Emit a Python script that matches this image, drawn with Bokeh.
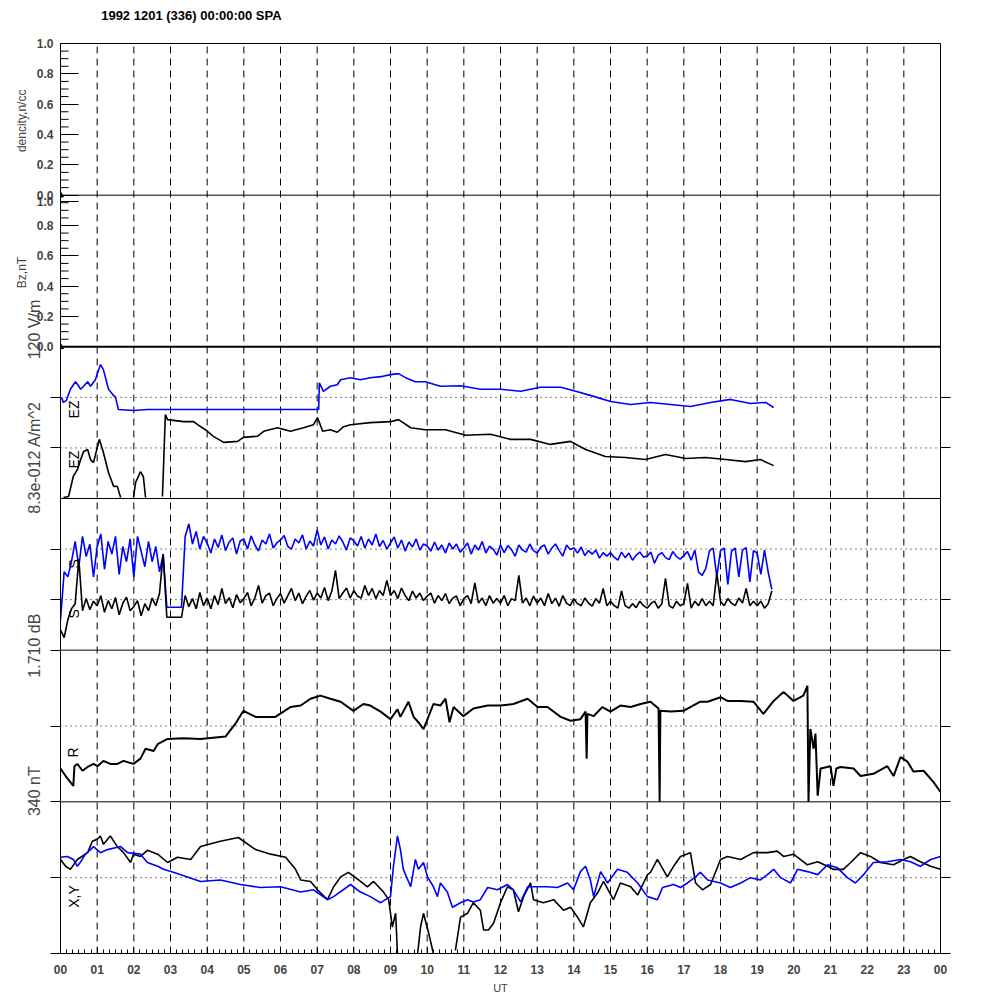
import math
from bokeh.plotting import figure
from bokeh.models import Range1d, LinearAxis, FixedTicker, Label, CustomJSTickFormatter
from bokeh.embed import file_html
from bokeh.resources import INLINE

nan = float("nan")

# ---------------- data ----------------
TITLE = "1992 1201 (336) 00:00:00 SPA"
HOUR_TICKS = list(range(0, 25))
HOUR_LABELS = ["00", "01", "02", "03", "04", "05", "06", "07", "08", "09", "10", "11",
               "12", "13", "14", "15", "16", "17", "18", "19", "20", "21", "22", "23", "00"]
UNIT_TICKS = [0.0, 0.2, 0.4, 0.6, 0.8, 1.0]
SIDE_LABELS = ["340 nT", "1.710 dB", "8.3e-012 A/m^2", "120 V/m"]
OUTER_LABELS = ["Bz,nT", "dencity,n/cc"]

# panels 1-2 : a single zero sample each
DENS_T = [0.0]
DENS_V = [0.0]
BZ_T = [0.0]
BZ_V = [0.0]

# panel 3 : EZ (blue, upper) and EZ (black, lower), panel units 0..3
EZB_T = [0.03, 0.08, 0.16, 0.27, 0.41, 0.49, 0.55, 0.63, 0.74, 0.82, 0.95, 1.09, 1.17, 1.31, 1.42,
         1.50, 1.58, 1.99, 2.37, 7.04, 7.06, 7.17, 7.36, 7.55, 7.64, 7.91, 8.18, 8.45, 8.73, 9.0,
         9.22, 9.41, 9.68, 9.95, 10.36, 10.91, 11.45, 12.0, 12.55, 13.09, 13.64, 14.05, 14.45, 15.0,
         15.55, 16.09, 16.64, 17.18, 17.73, 18.27, 18.82, 19.23, 19.45]
EZB_V = [2.0, 1.9, 1.94, 2.16, 2.31, 2.23, 2.16, 2.22, 2.31, 2.22, 2.35, 2.65, 2.55, 2.16, 2.06,
         2.0, 1.76, 1.74, 1.76, 1.76, 2.29, 2.12, 2.22, 2.25, 2.35, 2.39, 2.35, 2.39, 2.41, 2.45,
         2.47, 2.39, 2.31, 2.31, 2.22, 2.23, 2.16, 2.16, 2.12, 2.2, 2.2, 2.12, 2.04, 1.92,
         1.86, 1.9, 1.86, 1.82, 1.9, 1.96, 1.88, 1.9, 1.8]
EZK_T = [0.08, 0.22, 0.35, 0.46, 0.55, 0.63, 0.74, 0.82, 0.90, 1.01, 1.06, 1.17, 1.31, 1.45, 1.55, 1.64,
         nan, 1.99, 2.05, 2.18, 2.26, 2.32, nan,
         2.78, 2.81, 2.86, 2.92, 3.35, 3.63, 3.74, 3.95, 4.17, 4.45, 4.83, 4.99, 5.37, 5.54, 5.92, 6.27,
         6.63, 6.90, 7.01, 7.15, 7.36, 7.55, 7.72, 7.91, 8.45, 9.0, 9.22, 9.55, 9.95, 10.5, 11.05, 11.73,
         12.27, 12.82, 13.36, 13.91, 14.32, 14.86, 15.41, 15.95, 16.5, 17.05, 17.59, 18.14, 18.68,
         19.09, 19.45]
EZK_V = [0.02, 0.04, 0.44, 0.57, 0.77, 0.93, 0.97, 0.77, 0.71, 1.03, 1.17, 0.91, 0.51, 0.24, 0.24, 0.02,
         nan, 0.02, 0.32, 0.53, 0.43, 0.02, nan,
         0.04, 0.63, 1.66, 1.56, 1.52, 1.52, 1.46, 1.36, 1.23, 1.11, 1.13, 1.21, 1.23, 1.33, 1.40, 1.33,
         1.40, 1.46, 1.60, 1.33, 1.36, 1.31, 1.42, 1.46, 1.50, 1.52, 1.56, 1.40, 1.36, 1.36, 1.25, 1.27,
         1.17, 1.17, 1.07, 1.13, 0.97, 0.83, 0.81, 0.77, 0.87, 0.79, 0.81, 0.77, 0.73, 0.77, 0.65]

# panel 4 : two noisy traces sampled every 0.1 h, panel units 0..3
S_BLUE = [0.6, 1.55, 1.45, 1.75, 2.15, 1.65, 2.25, 1.85, 2.1, 1.45,
          2.05, 2.3, 1.6, 2.15, 1.9, 2.25, 1.5, 2.05, 1.75, 2.2,
          1.45, 2.25, 1.95, 1.65, 2.15, 1.75, 2.05, 1.55, 1.9, 0.85,
          0.85, 0.85, 0.85, 0.85, 2.25, 2.5, 2.1, 2.35, 2.0, 2.25,
          2.12, 1.92, 2.2, 2.03, 2.28, 1.97, 2.14, 2.22, 1.9, 2.16,
          2.2, 2.0, 2.26, 2.08, 1.96, 2.18, 2.1, 2.3, 2.02, 2.12,
          2.18, 2.27, 2.05, 2.0, 2.2, 2.12, 2.28, 2.0, 2.16, 2.06,
          2.38, 2.08, 2.24, 2.0, 2.18, 2.1, 2.26, 2.14, 1.98, 2.22,
          2.16, 2.06, 2.25, 2.02, 2.2, 2.08, 2.3, 2.05, 2.17, 2.0,
          2.12, 2.24, 2.02, 2.18, 1.96, 2.14, 2.04, 2.2, 1.98, 2.1,
          2.06, 1.96, 2.14, 1.98, 2.08, 1.92, 2.12, 2.0, 2.1, 1.94,
          2.02, 2.12, 1.9, 2.08, 1.98, 2.15, 1.92, 2.06, 2.0, 1.88,
          2.08, 1.93, 2.07, 1.99, 1.86, 2.08, 1.98, 1.94, 2.1, 1.97,
          1.92, 2.04, 2.08, 1.9, 2.02, 2.1, 1.97, 1.86, 2.08, 1.99,
          2.02, 1.92, 2.04, 1.87, 1.97, 1.9, 1.98, 1.82, 1.93, 1.86,
          1.93, 1.84, 1.78, 1.94, 1.83, 1.92, 1.78, 1.88, 1.94, 1.84,
          1.86, 1.94, 1.72, 1.88, 1.93, 1.83, 1.79, 1.95, 1.85, 1.8,
          1.87, 1.95, 1.78, 1.98, 1.55, 1.48, 1.62, 1.97, 2.02, 1.45,
          1.97, 2.02, 1.3, 1.96, 2.02, 1.45, 1.98, 2.03, 1.35, 1.97,
          1.92, 1.5, 1.98, 1.55, 1.2]
S_BLACK = [0.4, 0.25, 0.6, 0.82, 0.92, 1.8, 0.78, 1.02, 0.8, 0.97,
           0.88, 1.08, 0.75, 0.98, 0.82, 1.04, 0.7, 0.93, 1.05, 0.78,
           0.86, 0.98, 0.68, 0.92, 0.78, 1.03, 0.88, 1.12, 1.9, 0.65,
           0.65, 0.65, 0.65, 0.65, 1.08, 0.86, 1.02, 0.82, 1.14, 0.88,
           1.03, 0.82, 1.08, 0.9, 1.22, 0.92, 1.04, 0.84, 1.1, 0.94,
           1.02, 1.14, 0.88, 1.03, 1.28, 0.93, 1.08, 1.13, 0.88, 1.02,
           1.12, 0.93, 1.08, 1.22, 0.98, 1.13, 0.92, 1.07, 1.18, 0.99,
           1.13, 1.03, 1.24, 0.98, 1.17, 1.58, 1.02, 1.13, 1.23, 1.03,
           1.18, 1.07, 1.03, 1.28, 1.08, 1.22, 1.02, 1.18, 1.08, 1.38,
           1.08, 1.18, 1.02, 1.23, 1.08, 0.98, 1.17, 1.03, 1.13, 0.98,
           1.07, 1.13, 0.93, 1.08, 0.98, 1.12, 0.92, 1.03, 1.07, 0.88,
           1.02, 1.08, 0.92, 1.33, 0.93, 1.03, 0.88, 1.08, 0.93, 1.02,
           0.93, 1.08, 0.88, 1.02, 0.98, 1.48, 0.93, 1.03, 0.88, 1.07,
           0.93, 1.03, 0.88, 1.12, 0.92, 1.03, 0.87, 1.08, 0.93, 0.88,
           1.02, 0.92, 0.88, 1.03, 0.93, 0.87, 1.02, 0.93, 1.22, 0.88,
           0.97, 0.88, 0.83, 1.17, 0.88, 0.83, 0.92, 0.84, 0.97, 0.88,
           0.83, 0.92, 0.97, 0.83, 0.92, 1.42, 0.88, 0.83, 0.97, 0.88,
           0.92, 1.32, 0.83, 0.97, 0.88, 1.02, 0.88, 0.97, 0.88, 1.52,
           0.97, 0.88, 1.02, 0.93, 0.88, 1.03, 0.93, 1.22, 0.88, 0.97,
           0.88, 0.97, 0.83, 0.92, 1.17]
S_STEP_H = 0.1

# panel 5 : R, panel units 0..2
R_T = [0, 0.14, 0.27, 0.35, 0.38, 0.46, 0.60, 0.74, 0.90, 1.01,
       1.17, 1.36, 1.55, 1.72, 1.99, 2.18, 2.32, 2.54, 2.65, 2.92,
       3.35, 3.82, 4.50, 4.77, 4.99, 5.32, 5.86, 6.27, 6.55, 6.82,
       7.09, 7.36, 7.64, 7.99, 8.26, 8.45, 8.73, 9.0, 9.19, 9.27,
       9.49, 9.63, 9.76, 9.90, 10.01, 10.17, 10.36, 10.50, 10.61, 10.72,
       10.99, 11.26, 11.65, 12.0, 12.35, 12.74, 13.01, 13.28, 13.64, 13.91,
       14.18, 14.32, 14.35, 14.37, 14.54, 14.78, 15.0, 15.27, 15.55, 15.82,
       16.09, 16.31, 16.34, 16.36, 16.64, 16.99, 17.45, 17.65, 18.0, 18.19,
       18.55, 18.90, 19.17, 19.45, 19.72, 19.99, 20.26, 20.37, 20.40, 20.45,
       20.54, 20.59, 20.65, 20.73, 21.0, 21.08, 21.16, 21.27, 21.63, 21.82,
       22.17, 22.55, 22.72, 22.91, 23.10, 23.26, 23.54, 23.81, 24.0]
R_V = [0.44, 0.34, 0.26, 0.21, 0.47, 0.50, 0.41, 0.46, 0.50, 0.47,
       0.54, 0.50, 0.50, 0.54, 0.50, 0.57, 0.70, 0.67, 0.76, 0.83,
       0.84, 0.83, 0.86, 1.03, 1.20, 1.12, 1.12, 1.25, 1.27, 1.36,
       1.40, 1.36, 1.32, 1.20, 1.29, 1.27, 1.19, 1.09, 1.22, 1.12,
       1.32, 1.12, 1.05, 0.96, 1.09, 1.29, 1.27, 1.36, 1.05, 1.25,
       1.13, 1.23, 1.27, 1.27, 1.29, 1.36, 1.25, 1.25, 1.12, 1.07,
       1.09, 1.19, 0.57, 1.16, 1.13, 1.25, 1.19, 1.27, 1.25, 1.29,
       1.32, 1.23, 0.0, 1.2, 1.19, 1.20, 1.32, 1.32, 1.38, 1.33,
       1.33, 1.32, 1.16, 1.33, 1.45, 1.33, 1.40, 1.53, 0.0, 0.96,
       0.70, 0.90, 0.08, 0.44, 0.47, 0.21, 0.44, 0.46, 0.44, 0.34,
       0.37, 0.47, 0.34, 0.59, 0.53, 0.40, 0.41, 0.26, 0.13]

# panel 6 : X (black) and Y (blue), panel units 0..2
X_T = [0, 0.14, 0.27, 0.46, 0.74, 0.87, 1.01, 1.09, 1.17, 1.36,
       1.55, 1.72, 1.91, 1.99, 2.18, 2.37, 2.65, 2.92, 3.19, 3.55,
       3.82, 4.36, 4.85, 5.32, 5.73, 6.14, 6.41, 6.55, 6.82, 7.01,
       7.28, 7.45, 7.64, 7.85, 8.13, 8.37, 8.54, 8.81, 8.95, 9.05,
       9.14, 9.19, nan, 9.74, 9.82, 9.90, 10.04, 10.17, nan, 10.77,
       10.91, 11.10, 11.26, 11.45, 11.54, 11.67, 11.81, 12.0, 12.19, 12.35,
       12.49, 12.63, 12.82, 12.90, 13.17, 13.45, 13.72, 13.91, 14.10, 14.26,
       14.45, 14.65, 14.81, 15.08, 15.27, 15.55, 15.74, 16.01, 16.09, 16.28,
       16.55, 16.72, 16.91, 17.18, 17.32, 17.51, 17.73, 18.0, 18.19, 18.55,
       18.90, 19.28, 19.55, 19.72, 19.99, 20.37, 20.65, 20.92, 21.08, 21.35,
       21.55, 21.82, 22.09, 22.36, 22.72, 22.99, 23.18, 23.45, 23.73, 24.0]
X_V = [1.24, 1.15, 1.11, 1.24, 1.33, 1.48, 1.51, 1.55, 1.44, 1.55,
       1.41, 1.33, 1.20, 1.31, 1.28, 1.36, 1.31, 1.20, 1.27, 1.24,
       1.41, 1.48, 1.53, 1.37, 1.31, 1.27, 1.11, 0.97, 0.95, 0.84,
       0.71, 0.88, 1.01, 1.07, 0.97, 0.88, 0.95, 0.81, 0.71, 0.35,
       0.53, 0.0, nan, 0.0, 0.35, 0.53, 0.27, 0.0, nan, 0.04,
       0.48, 0.53, 0.67, 0.57, 0.31, 0.31, 0.40, 0.67, 0.88, 0.84,
       0.55, 0.75, 0.93, 0.71, 0.67, 0.71, 0.57, 0.61, 0.48, 0.35,
       0.67, 0.80, 0.95, 0.71, 0.93, 0.88, 0.77, 1.04, 1.07, 1.24,
       1.01, 1.15, 1.28, 1.33, 0.93, 0.84, 0.91, 1.24, 1.28, 1.24,
       1.33, 1.33, 1.35, 1.28, 1.31, 1.17, 1.21, 1.15, 1.11, 1.11,
       1.20, 1.33, 1.28, 1.20, 1.17, 1.24, 1.28, 1.21, 1.15, 1.11]
Y_T = [0, 0.19, 0.35, 0.46, 0.55, 0.68, 0.82, 0.90, 1.09, 1.28,
       1.64, 1.83, 2.18, 2.37, 2.65, 2.81, 3.08, 3.46, 3.82, 4.36,
       4.91, 5.45, 6.0, 6.55, 6.90, 7.28, 7.45, 7.91, 8.18, 8.45,
       8.73, 9.0, 9.08, 9.19, 9.27, 9.35, 9.55, 9.68, 9.76, 9.90,
       10.01, 10.17, 10.28, 10.36, 10.55, 10.69, 10.91, 11.10, 11.26, 11.45,
       11.65, 11.92, 12.19, 12.35, 12.55, 12.74, 13.01, 13.28, 13.55, 13.83,
       13.99, 14.18, 14.32, 14.45, 14.54, 14.73, 14.92, 15.19, 15.46, 15.74,
       16.01, 16.28, 16.42, 16.72, 16.91, 17.10, 17.32, 17.45, 17.65, 18.0,
       18.27, 18.55, 18.82, 19.09, 19.28, 19.45, 19.64, 19.91, 20.10, 20.37,
       20.65, 20.92, 21.19, 21.46, 21.68, 21.90, 22.17, 22.55, 22.91, 23.18,
       23.45, 23.73, 24.0]
Y_V = [1.27, 1.28, 1.24, 1.15, 1.21, 1.31, 1.37, 1.41, 1.33, 1.37,
       1.41, 1.33, 1.31, 1.20, 1.15, 1.11, 1.07, 1.01, 0.95, 0.97,
       0.91, 0.87, 0.88, 0.81, 0.84, 0.71, 0.75, 0.91, 0.81, 0.75,
       0.67, 0.75, 1.15, 1.55, 1.37, 1.11, 0.88, 1.24, 1.11, 1.20,
       1.01, 0.88, 0.75, 0.93, 0.81, 0.61, 0.67, 0.71, 0.68, 0.71,
       0.87, 0.84, 0.91, 0.84, 0.68, 0.88, 0.88, 0.88, 0.87, 0.93,
       0.84, 1.08, 1.15, 0.97, 0.75, 1.08, 0.93, 1.11, 1.07, 0.93,
       0.75, 0.71, 0.87, 0.91, 0.87, 0.93, 1.01, 1.07, 0.97, 0.93,
       0.87, 0.93, 1.0, 0.97, 1.04, 1.11, 1.0, 0.93, 1.11, 1.08,
       1.04, 1.17, 1.13, 1.0, 0.93, 1.04, 1.20, 1.21, 1.24, 1.21,
       1.15, 1.24, 1.28]

# panels from top: (range name, low, high)
PANELS = [("dens", 0.0, 1.0), ("bz", 0.0, 1.0), ("ez", 0.0, 3.0),
          ("s", 0.0, 3.0), ("r", 0.0, 2.0), ("xy", 0.0, 2.0)]
NP = len(PANELS)

# ---------------- figure ----------------
FONT = "Liberation Sans"
BLUE = "#0000ff"

p = figure(width=1000, height=1000, output_backend="svg", toolbar_location=None,
           x_range=Range1d(0, 24), y_range=Range1d(0, NP), title=None,
           x_axis_type=None, y_axis_type=None,
           min_border_left=60, min_border_right=60, min_border_top=43, min_border_bottom=47)
p.outline_line_color = "black"
p.outline_line_width = 1
p.background_fill_color = "white"
p.border_fill_color = "white"

def main_pos(k, v):
    _, lo, hi = PANELS[k]
    return (NP - 1 - k) + (v - lo) / (hi - lo)

for k, (name, lo, hi) in enumerate(PANELS):
    span = hi - lo
    p.extra_y_ranges[name] = Range1d(lo - (NP - 1 - k) * span, hi + k * span)

# title line above the frame, carried by a tick-less top axis
xt = LinearAxis(ticker=FixedTicker(ticks=[3.57], minor_ticks=[]),
                formatter=CustomJSTickFormatter(args=dict(t=TITLE), code="return t;"),
                major_tick_in=0, major_tick_out=0, major_label_standoff=21,
                major_label_text_font=FONT, major_label_text_font_style="bold",
                major_label_text_font_size="13px", major_label_text_color="black",
                axis_line_color=None, major_tick_line_color=None, minor_tick_line_color=None)
p.add_layout(xt, "above")

# outward ticks at the guide levels of the lower four panels
out_ticks = [main_pos(2, 1.0), main_pos(2, 2.0), main_pos(3, 0.0), main_pos(3, 1.0), main_pos(3, 2.0),
             main_pos(4, 0.0), main_pos(4, 1.0), main_pos(5, 0.0), main_pos(5, 1.0)]
# labelled ticks of the two unit panels (the lower panel's "1.0" sits just under the shared border)
left_major = [main_pos(0, v) for v in UNIT_TICKS] + [main_pos(1, v) for v in UNIT_TICKS[:-1]] \
    + [main_pos(1, 0.96)]
left_text = [f"{v:.1f}" for v in UNIT_TICKS] + [f"{v:.1f}" for v in UNIT_TICKS[:-1]] \
    + [f"{UNIT_TICKS[-1]:.1f}"]

yl = LinearAxis(ticker=FixedTicker(ticks=left_major, minor_ticks=out_ticks),
                formatter=CustomJSTickFormatter(args=dict(labels=left_text), code="return labels[index];"),
                major_tick_in=18, major_tick_out=0, minor_tick_in=0, minor_tick_out=10,
                major_label_standoff=-3, major_label_text_font=FONT,
                major_label_text_font_style="bold", major_label_text_font_size="12px",
                axis_line_color="black", major_tick_line_color="black", minor_tick_line_color="black")
p.add_layout(yl, "left")

side_pos = [1.07, 2.03, 3.27, 4.114]
ys = LinearAxis(ticker=FixedTicker(ticks=side_pos, minor_ticks=[]),
                formatter=CustomJSTickFormatter(args=dict(labels=SIDE_LABELS), code="return labels[index];"),
                major_tick_in=0, major_tick_out=0, major_label_orientation="parallel",
                major_label_standoff=-10, major_label_text_font=FONT,
                major_label_text_font_size="16px", major_label_text_font_style="normal",
                axis_line_color=None, major_tick_line_color=None, minor_tick_line_color=None)
p.add_layout(ys, "left")

outer_pos = [4.49, 5.49]
yo = LinearAxis(ticker=FixedTicker(ticks=outer_pos, minor_ticks=[]),
                formatter=CustomJSTickFormatter(args=dict(labels=OUTER_LABELS), code="return labels[index];"),
                major_tick_in=0, major_tick_out=0, major_label_orientation="parallel",
                major_label_standoff=-6, major_label_text_font=FONT,
                major_label_text_font_size="12px", major_label_text_font_style="normal",
                axis_line_color=None, major_tick_line_color=None, minor_tick_line_color=None)
p.add_layout(yo, "left")

yr = LinearAxis(ticker=FixedTicker(ticks=out_ticks, minor_ticks=[]),
                formatter=CustomJSTickFormatter(code="return '';"),
                major_tick_in=0, major_tick_out=10, axis_line_color="black")
p.add_layout(yr, "right")

minor_x = [i / 6 for i in range(0, 24 * 6 + 1) if i % 6 != 0]
xb = LinearAxis(ticker=FixedTicker(ticks=HOUR_TICKS, minor_ticks=minor_x),
                major_label_overrides={h: lab for h, lab in zip(HOUR_TICKS, HOUR_LABELS)},
                major_tick_in=6, major_tick_out=0, minor_tick_in=4, minor_tick_out=0,
                major_label_standoff=11, major_label_text_font=FONT,
                major_label_text_font_style="bold", major_label_text_font_size="12px",
                axis_label="UT", axis_label_standoff=5, axis_label_text_font=FONT,
                axis_label_text_font_style="normal", axis_label_text_font_size="11px",
                axis_line_color="black")
p.add_layout(xb, "below")

# inward minor ticks of the two unit panels
minor_unit = [main_pos(k, i * 0.05) for k in (0, 1) for i in range(1, 20) if i % 4 != 0]
p.segment(x0=[0] * len(minor_unit), x1=[0.22] * len(minor_unit), y0=minor_unit, y1=minor_unit,
          line_color="black", line_width=1)

# hour guides
guide_h = HOUR_TICKS[1:-1]
p.segment(x0=guide_h, x1=guide_h, y0=[0] * len(guide_h), y1=[NP] * len(guide_h),
          line_color="black", line_width=1, line_dash="7 5")

# panel separators
for b in range(1, NP):
    p.segment(x0=[0], x1=[24], y0=[b], y1=[b], line_color="black",
              line_width=2 if b == 4 else 1)

# dotted guides
for name, levels in (("ez", [1, 2]), ("s", [1, 2]), ("r", [1]), ("xy", [1])):
    p.segment(x0=[0] * len(levels), x1=[24] * len(levels), y0=levels, y1=levels,
              y_range_name=name, line_color="black", line_width=1, line_dash="1 4")

# ---------------- data ----------------
p.scatter(DENS_T, DENS_V, y_range_name="dens", marker="triangle", size=6, color="black")
p.scatter(BZ_T, BZ_V, y_range_name="bz", marker="triangle", size=6, color="black")

p.line(EZB_T, EZB_V, y_range_name="ez", line_color=BLUE, line_width=1.6)
p.line(EZK_T, EZK_V, y_range_name="ez", line_color="black", line_width=1.6)

s_t = [round(i * S_STEP_H, 2) for i in range(len(S_BLUE))]
p.line(s_t, S_BLUE, y_range_name="s", line_color=BLUE, line_width=1.6)
p.line(s_t, S_BLACK, y_range_name="s", line_color="black", line_width=1.6)

p.line(R_T, R_V, y_range_name="r", line_color="black", line_width=2)

p.line(X_T, X_V, y_range_name="xy", line_color="black", line_width=1.6)
p.line(Y_T, Y_V, y_range_name="xy", line_color=BLUE, line_width=1.6)

# ---------------- in-panel trace names ----------------
def lab(x, y, text, size, angle=0.0, align="center", style="normal"):
    p.add_layout(Label(x=x, y=y, text=text, angle=angle, text_align=align,
                       text_baseline="middle", text_font=FONT, text_font_size=size,
                       text_font_style=style, text_color="black"))

lab(0.355, 3.587, "EZ", "14px", angle=math.pi / 2)
lab(0.355, 3.257, "EZ", "14px", angle=math.pi / 2)
lab(0.355, 2.57, "S", "14px", angle=math.pi / 2)
lab(0.355, 2.24, "S", "14px", angle=math.pi / 2)
lab(0.33, 1.325, "R", "14px", angle=math.pi / 2)
lab(0.355, 0.376, "X,Y", "14px", angle=math.pi / 2)

open("out.html", "w").write(file_html(p, INLINE))
